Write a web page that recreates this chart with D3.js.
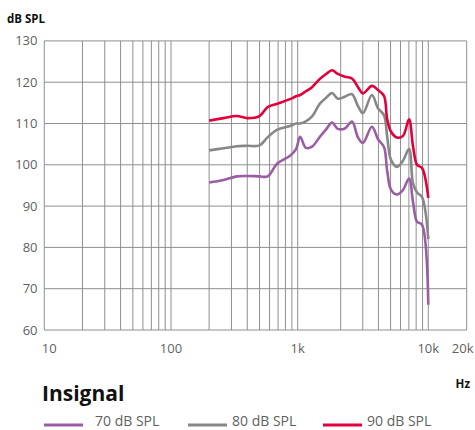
<!DOCTYPE html>
<html>
<head>
<meta charset="utf-8">
<script src="https://cdn.jsdelivr.net/npm/d3@7"></script>
<style>
  body { margin: 0; background: #fff; }
  svg { display: block; font-family: "Open Sans", sans-serif; }
</style>
</head>
<body>
<div id="chart"></div>
<script>
// frequencies (Hz) shared by the three curves
let freqs = [200, 260, 330, 400, 500, 580, 690, 870, 970, 1040, 1140, 1260, 1430, 1580, 1740, 1910,
  2160, 2460, 2750, 3010, 3550, 3970, 4430, 4700, 5040, 5630, 6280, 7020, 7550, 8130, 8910, 10000];

let spl70 = [95.7, 96.3, 97.2, 97.3, 97.2, 97.2, 100.3, 102.2, 103.8, 106.8, 104.1, 104.4, 106.8, 108.6, 110.2, 108.7,
  108.8, 110.5, 106.6, 105.3, 109.2, 106.2, 104.3, 98.5, 94.0, 92.8, 93.9, 96.7, 91.0, 86.2, 85.5, 66.1];
let spl80 = [103.5, 104.0, 104.5, 104.6, 104.7, 106.7, 108.5, 109.4, 110.0, 110.0, 110.5, 111.7, 114.8, 116.2, 117.4, 116.0,
  116.5, 117.1, 114.2, 112.5, 116.9, 113.7, 112.0, 106.8, 101.2, 99.5, 101.0, 103.8, 95.5, 93.3, 92.2, 82.0];
let spl90 = [110.7, 111.3, 111.8, 111.3, 111.8, 114.0, 114.8, 115.9, 116.6, 116.9, 117.8, 118.8, 120.8, 122.0, 122.9, 122.0,
  121.3, 120.9, 118.8, 117.3, 119.1, 118.1, 116.7, 111.0, 108.0, 106.6, 107.0, 111.0, 104.5, 100.0, 99.2, 92.0];

let seriesNames = ['70 dB SPL', '80 dB SPL', '90 dB SPL'];
let seriesColors = ['#9b5ca6', '#878787', '#e2003c'];

let yTicks = [60, 70, 80, 90, 100, 110, 120, 130];
let xLabels = [[10, '10'], [100, '100'], [1000, '1k'], [10000, '10k'], [20000, '20k']];
let xGrid = [10, 20, 30, 40, 50, 60, 70, 80, 90,
  100, 200, 300, 400, 500, 600, 700, 800, 900,
  1000, 2000, 3000, 4000, 5000, 6000, 7000, 8000, 9000, 10000, 20000];

let W = 475, H = 430;
let svg = d3.select('#chart').append('svg').attr('width', W).attr('height', H);

// the printed axis is not a perfect log axis, so break it into pieces
let x = d3.scaleLog()
  .domain([10, 100, 1000, 2000, 10000, 20000])
  .range([44.3, 171, 297.7, 340.7, 428.3, 466.7]);
let y = d3.scaleLinear().domain([60, 130]).range([330, 40.9]);

let grid = svg.append('g');
grid.selectAll('.vg').data(xGrid).enter().append('line')
  .attr('x1', d => x(d)).attr('x2', d => x(d))
  .attr('y1', y(130)).attr('y2', y(60))
  .attr('stroke', '#8f8f8f').attr('stroke-width', 1);
grid.selectAll('.hg').data(yTicks).enter().append('line')
  .attr('x1', x(10)).attr('x2', x(20000))
  .attr('y1', d => y(d)).attr('y2', d => y(d))
  .attr('stroke', '#8f8f8f').attr('stroke-width', 1);

svg.selectAll('.yl').data(yTicks).enter().append('text')
  .attr('x', 37.5).attr('y', d => y(d)).attr('dy', '0.35em')
  .attr('text-anchor', 'end').attr('font-size', 13).attr('fill', '#5f5f5f')
  .text(d => d);

svg.selectAll('.xl').data(xLabels).enter().append('text')
  .attr('x', d => d[0] === 10 ? x(d[0]) + 5 : (d[0] === 20000 ? x(d[0]) - 4 : x(d[0])))
  .attr('y', 353)
  .attr('text-anchor', 'middle').attr('font-size', 13).attr('fill', '#5f5f5f')
  .text(d => d[1]);

svg.append('text').attr('x', 7).attr('y', 23)
  .attr('font-size', 11.5).attr('font-weight', 'bold').attr('fill', '#111')
  .text('dB SPL');
svg.append('text').attr('x', 470).attr('y', 388).attr('text-anchor', 'end')
  .attr('font-size', 11.5).attr('font-weight', 'bold').attr('fill', '#111')
  .text('Hz');

let allSeries = [spl70, spl80, spl90];
let line = d3.line()
  .x((d, i) => x(freqs[i]))
  .y(d => y(d))
  .curve(d3.curveCatmullRom.alpha(0.5));

svg.selectAll('.curve').data(allSeries).enter().append('path')
  .attr('d', d => line(d))
  .attr('fill', 'none')
  .attr('stroke', (d, i) => seriesColors[i])
  .attr('stroke-width', 2.6)
  .attr('stroke-linejoin', 'round');

svg.append('text').attr('x', 42).attr('y', 401)
  .attr('font-size', 21).attr('font-weight', 'bold').attr('fill', '#111')
  .text('Insignal');

let legendX = [44, 188, 323];
let legendTextX = [95, 232, 367];
let legend = svg.selectAll('.lg').data(seriesNames).enter().append('g');
legend.append('line')
  .attr('x1', (d, i) => legendX[i]).attr('x2', (d, i) => legendX[i] + 39)
  .attr('y1', 425).attr('y2', 425)
  .attr('stroke', (d, i) => seriesColors[i]).attr('stroke-width', 3);
legend.append('text')
  .attr('x', (d, i) => legendTextX[i]).attr('y', 426)
  .attr('font-size', 14).attr('fill', '#5f5f5f')
  .text(d => d);
</script>
</body>
</html>
